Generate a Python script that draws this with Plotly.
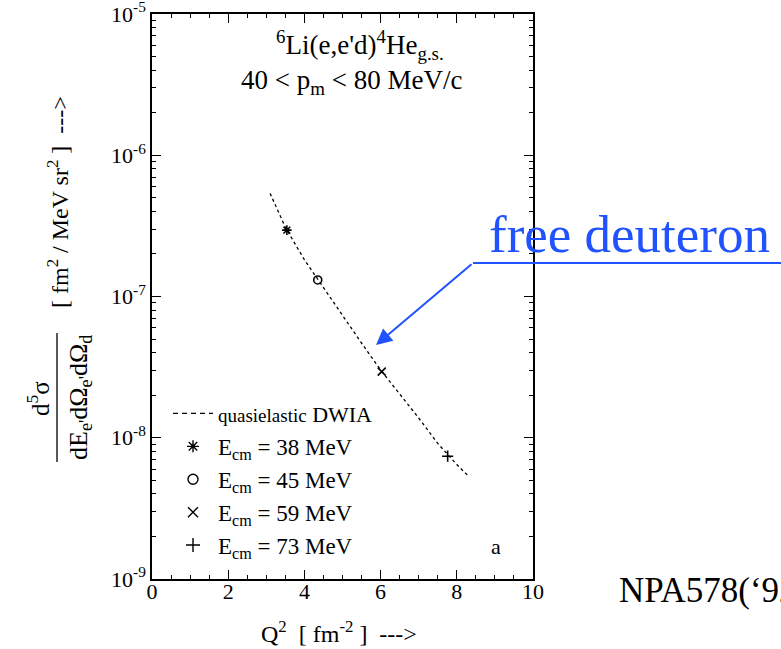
import plotly.graph_objects as go

# ---------------- data ----------------
q2_curve = [3.1, 3.5, 4.0, 4.5, 5.0, 5.5, 6.0, 6.5, 7.0, 7.5, 8.0, 8.3]
xs_curve = [5.37e-7, 3.09e-7, 1.82e-7, 1.15e-7, 7.41e-8, 4.68e-8,
            3.02e-8, 2.04e-8, 1.38e-8, 9.12e-9, 6.46e-9, 5.37e-9]

pt_q2 = [3.54, 4.35, 6.03, 7.76]
pt_xs = [2.95e-7, 1.31e-7, 2.94e-8, 7.4e-9]
pt_names = ["E<sub>cm</sub> = 38 MeV", "E<sub>cm</sub> = 45 MeV",
            "E<sub>cm</sub> = 59 MeV", "E<sub>cm</sub> = 73 MeV"]
pt_symbols = ["asterisk-open", "circle-open", "x-thin-open", "cross-thin-open"]

y_tickvals = [1e-9, 1e-8, 1e-7, 1e-6, 1e-5]
y_ticktext = ["10<sup>-9</sup>", "10<sup>-8</sup>", "10<sup>-7</sup>",
              "10<sup>-6</sup>", "10<sup>-5</sup>"]
x_tickvals = [0, 2, 4, 6, 8, 10]
x_ticktext = ["0", "2", "4", "6", "8", "10"]

# ---------------- geometry helpers ----------------
W, H = 781, 649
ML, MR, MT, MB = 152, 248, 14, 70
PW, PH = W - ML - MR, H - MT - MB


def px(x):
    return (x - ML) / PW


def py(y):
    return 1 - (y - MT) / PH


SERIF = "Liberation Serif, Times New Roman, serif"
BLUE = "#2152FF"

fig = go.Figure()

# model curve (dotted in plot)
fig.add_trace(go.Scatter(x=q2_curve, y=xs_curve, mode="lines",
                         line=dict(color="black", width=1.3, dash="dot"),
                         showlegend=False, hoverinfo="skip"))
# legend entry for the curve (dashed)
fig.add_trace(go.Scatter(x=[None], y=[None], mode="lines",
                         line=dict(color="black", width=1.3, dash="5px,4px"),
                         name="<span style='font-size:19px'>quasielastic</span>"
                              "<span style='font-size:22px'> DWIA</span>"))

for xv, yv, nm, sym in zip(pt_q2, pt_xs, pt_names, pt_symbols):
    fig.add_trace(go.Scatter(x=[xv], y=[yv], mode="markers",
                             marker=dict(symbol=sym, size=8, color="black",
                                         line=dict(color="black", width=1.6)),
                             showlegend=False))
    fig.add_trace(go.Scatter(x=[None], y=[None], mode="markers", name=nm,
                             marker=dict(symbol=sym, size=10, color="black",
                                         line=dict(color="black", width=1.4))))

axis_common = dict(showline=True, linecolor="black", linewidth=1.5, mirror="allticks",
                   ticks="inside", ticklen=9, tickwidth=1.2, tickcolor="black",
                   showgrid=False, zeroline=False, ticklabeloverflow="allow",
                   automargin=False,
                   tickfont=dict(family=SERIF, size=22, color="black"))

fig.update_xaxes(range=[0, 10], tickvals=x_tickvals, ticktext=x_ticktext,
                 ticklabelstandoff=-8,
                 minor=dict(ticks="inside", ticklen=4, dtick=0.5, tickcolor="black"),
                 **axis_common)
minor_y = [m * 10 ** e for e in range(-9, -5) for m in range(2, 10)]
fig.update_yaxes(type="log", range=[-9, -4.9999], tickvals=y_tickvals, ticktext=y_ticktext,
                 minor=dict(ticks="inside", ticklen=4, tickvals=minor_y, tickcolor="black"),
                 **axis_common)

ann = []


def text(x, y, t, size, **kw):
    d = dict(x=px(x), y=py(y), xref="paper", yref="paper", text=t, showarrow=False,
             font=dict(family=SERIF, size=size, color=kw.pop("color", "black")),
             xanchor=kw.pop("xanchor", "center"), yanchor=kw.pop("yanchor", "middle"))
    d.update(kw)
    ann.append(d)


# in-plot titles
text(360, 45, "<sup>6</sup>Li(e,e'd)<sup>4</sup>He<sub>g.s.</sub>", 27)
text(351, 82, "40 &lt; p<sub>m</sub> &lt; 80 MeV/c", 27)
text(496, 546, "a", 22)

# axis titles
text(339, 632, "Q<sup>2</sup>  [ fm<sup>-2</sup> ]  ---&gt;", 24)
text(38, 398, "d<sup>5</sup>σ", 25, textangle=-90)
text(80, 398, "dE<sub>e'</sub>dΩ<sub>e'</sub>dΩ<sub>d</sub>", 26, textangle=-90)
text(58, 202, "[ fm<sup>2</sup> / MeV sr<sup>2</sup> ]  ---&gt;", 24, textangle=-90)

# blue annotation
text(629, 234, "free deuteron", 53, color=BLUE)
ann.append(dict(x=px(376), y=py(345), xref="paper", yref="paper", text="",
                showarrow=True, ax=473 - 376, ay=263 - 345, axref="pixel", ayref="pixel",
                arrowhead=2, arrowsize=1.6, arrowwidth=2, arrowcolor=BLUE))

# reference
text(617, 590, "NPA578(‘92)", 35, xanchor="left")

shapes = [
    dict(type="line", xref="paper", yref="paper", x0=px(57), x1=px(57),
         y0=py(333), y1=py(462), line=dict(color="black", width=1.3)),
    dict(type="line", xref="paper", yref="paper", x0=px(473), x1=px(781),
         y0=py(263), y1=py(263), line=dict(color=BLUE, width=2)),
]

fig.update_layout(
    width=W, height=H, margin=dict(l=ML, r=MR, t=MT, b=MB, autoexpand=False),
    paper_bgcolor="white", plot_bgcolor="white",
    annotations=ann, shapes=shapes,
    legend=dict(x=px(168), y=py(392), xanchor="left", yanchor="top",
                bgcolor="rgba(0,0,0,0)", font=dict(family=SERIF, size=23, color="black"),
                itemwidth=40, tracegroupgap=0),
    font=dict(family=SERIF, color="black"),
)

fig.write_html("out.html")
